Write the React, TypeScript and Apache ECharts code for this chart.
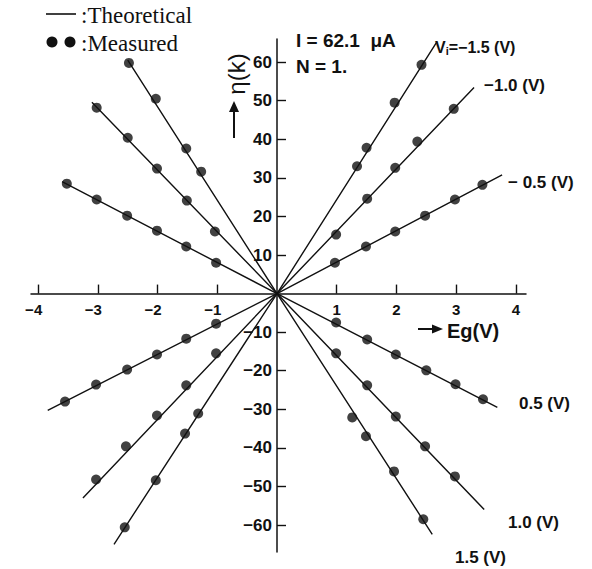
import React, { useEffect, useRef } from "react";
import * as echarts from "echarts";

// Tick positions on the two axes (0 is left unlabeled at the crossing)
const xTicks = [-4, -3, -2, -1, 1, 2, 3, 4];
const yTicks = [-60, -50, -40, -30, -20, -10, 10, 20, 30, 40, 50, 60];

// Theoretical straight lines through the origin: [Eg, eta] end points
const lineNames = ["Vi=-1.5", "Vi=-1.0", "Vi=-0.5", "Vi=0.5", "Vi=1.0", "Vi=1.5"];
const lineLow = [
  [-2.73, -65],
  [-3.25, -53],
  [-3.84, -30.3],
  [-3.6, 29],
  [-3.1, 49.6],
  [-2.5, 60.5],
];
const lineHigh = [
  [2.68, 65.3],
  [3.3, 53.4],
  [3.77, 30.8],
  [3.69, -29.5],
  [3.47, -56],
  [2.6, -62.4],
];

// Measured points for each line
const measuredN15 = [
  [-2.55, -60.6], [-2.03, -48.4], [-1.54, -36.3], [-1.32, -31.1],
  [1.34, 33], [1.5, 37.8], [1.97, 49.5], [2.42, 59.3],
];
const measuredN10 = [
  [-3.03, -48.2], [-2.53, -39.6], [-2.01, -31.6], [-1.52, -23.8], [-1.02, -15.5],
  [0.99, 15.3], [1.51, 24.6], [1.98, 32.6], [2.35, 39.4], [2.96, 47.9],
];
const measuredN05 = [
  [-3.55, -28], [-3.03, -23.6], [-2.51, -19.7], [-2.01, -15.8], [-1.52, -11.7], [-1.02, -7.8],
  [0.97, 8], [1.49, 12.2], [1.98, 16.1], [2.48, 20.2], [2.98, 24.4], [3.44, 28.2],
];
const measuredP05 = [
  [-3.52, 28.5], [-3.02, 24.4], [-2.51, 20.2], [-2.01, 16.3], [-1.52, 12.2], [-1.02, 8],
  [0.99, -7.5], [1.51, -11.9], [1.99, -15.8], [2.5, -19.9], [2.99, -23.5], [3.45, -27.4],
];
const measuredP10 = [
  [-3.02, 48.2], [-2.5, 40.4], [-2.01, 32.4], [-1.51, 24.1], [-1.04, 16.1],
  [0.99, -15.5], [1.51, -23.8], [1.99, -31.9], [2.48, -39.6], [2.98, -47.4],
];
const measuredP15 = [
  [-2.48, 59.8], [-2.03, 50.5], [-1.52, 37.6], [-1.27, 31.6],
  [1.26, -32.1], [1.49, -37], [1.96, -46.1], [2.45, -58.5],
];
const measured = [measuredN15, measuredN10, measuredN05, measuredP05, measuredP10, measuredP15];

const SANS = "'Liberation Sans', Arial, sans-serif";
const SERIF = "'Liberation Serif', 'Times New Roman', serif";
const INK = "#111";

// Plot area and axis ranges
const GRID = { left: 31, top: 39, width: 495, height: 513 };
const X_MIN = -4.12;
const X_MAX = 4.17;
const Y_MIN = -67;
const Y_MAX = 66;

export default function App() {
  const ref = useRef<HTMLDivElement>(null);

  useEffect(() => {
    if (!ref.current) return;
    const chart = echarts.init(ref.current, null, { renderer: "svg" });

    // shift both axes from the grid edges onto the origin
    const xAxisOffset = -(GRID.height * (-Y_MIN / (Y_MAX - Y_MIN)));
    const yAxisOffset = -(GRID.width * (-X_MIN / (X_MAX - X_MIN)));

    const lineSeries = lineNames.map((name, i) => ({
      name,
      type: "line",
      data: [lineLow[i], [0, 0], lineHigh[i]],
      symbol: "none",
      lineStyle: { color: INK, width: 1.4 },
      z: 2,
    }));
    const pointSeries = lineNames.map((name, i) => ({
      name: name + " measured",
      type: "scatter",
      data: measured[i],
      symbol: "circle",
      symbolSize: 10,
      itemStyle: { color: INK },
      z: 3,
    }));

    const annot = (x: number, y: number, text: string, size = 17) => ({
      type: "text",
      x,
      y,
      style: {
        text,
        fill: INK,
        font: `bold ${size}px ${SANS}`,
        verticalAlign: "middle",
        align: "left",
      },
    });

    chart.setOption({
      animation: false,
      backgroundColor: "#fff",
      grid: { ...GRID, containLabel: false },
      xAxis: {
        type: "value",
        min: X_MIN,
        max: X_MAX,
        position: "bottom",
        offset: xAxisOffset,
        axisLine: { onZero: false, lineStyle: { color: INK, width: 1.5 } },
        axisTick: {
          show: true,
          inside: true,
          length: 9,
          customValues: xTicks,
          lineStyle: { color: INK, width: 1.4 },
        },
        axisLabel: {
          customValues: xTicks,
          margin: 8,
          color: INK,
          fontSize: 15,
          fontWeight: "bold",
          fontFamily: SANS,
          formatter: (v: number) => (v < 0 ? `{n|−${Math.abs(v)}}` : `${v}`),
          rich: {
            n: {
              fontSize: 15,
              fontWeight: "bold",
              fontFamily: SANS,
              color: INK,
              padding: [0, 9, 0, 0],
            },
          },
        },
        splitLine: { show: false },
      },
      yAxis: {
        type: "value",
        min: Y_MIN,
        max: Y_MAX,
        position: "left",
        offset: yAxisOffset,
        axisLine: { onZero: false, lineStyle: { color: INK, width: 1.5 } },
        axisTick: {
          show: true,
          inside: true,
          length: 9,
          customValues: yTicks,
          lineStyle: { color: INK, width: 1.4 },
        },
        axisLabel: {
          customValues: yTicks,
          margin: 5,
          color: INK,
          fontSize: 17,
          fontWeight: "bold",
          fontFamily: SANS,
          formatter: (v: number) => (v < 0 ? `−${Math.abs(v)}` : `${v}`),
        },
        splitLine: { show: false },
      },
      series: [...lineSeries, ...pointSeries],
      graphic: [
        // legend
        { type: "line", shape: { x1: 46, y1: 14, x2: 76, y2: 14 }, style: { stroke: INK, lineWidth: 1.6 } },
        { type: "text", x: 81, y: 15, style: { text: ":Theoretical", fill: INK, font: `23px ${SERIF}`, verticalAlign: "middle" } },
        { type: "circle", shape: { cx: 52, cy: 42, r: 5.5 }, style: { fill: INK } },
        { type: "circle", shape: { cx: 70, cy: 42, r: 5.5 }, style: { fill: INK } },
        { type: "text", x: 81, y: 43, style: { text: ":Measured", fill: INK, font: `23px ${SERIF}`, verticalAlign: "middle" } },

        // conditions
        annot(296, 40, "I = 62.1  μA", 19),
        annot(296, 66, "N = 1.", 19),

        // line labels
        {
          type: "text",
          x: 435,
          y: 47,
          style: {
            text: "{v|V}{s|i}{v|=−1.5 (V)}",
            verticalAlign: "middle",
            rich: {
              v: { font: `bold 16px ${SANS}`, fill: INK },
              s: { font: `bold 11px ${SANS}`, fill: INK, padding: [8, 0, 0, 0] },
            },
          },
        },
        annot(484, 85, "−1.0 (V)"),
        annot(508, 182, "− 0.5 (V)"),
        annot(519, 403, "0.5 (V)"),
        annot(508, 522, "1.0 (V)"),
        annot(455, 557, "1.5 (V)"),

        // y-axis title: upward arrow and rotated eta(k)
        { type: "line", shape: { x1: 234, y1: 138, x2: 234, y2: 110 }, style: { stroke: INK, lineWidth: 2 } },
        { type: "polygon", shape: { points: [[229, 112], [239, 112], [234, 101]] }, style: { fill: INK } },
        {
          type: "text",
          x: 236,
          y: 74,
          rotation: Math.PI / 2,
          style: { text: "η(k)", fill: INK, font: `24px ${SANS}`, align: "center", verticalAlign: "middle" },
        },

        // x-axis title: arrow and Eg(V)
        { type: "line", shape: { x1: 418, y1: 329, x2: 434, y2: 329 }, style: { stroke: INK, lineWidth: 2 } },
        { type: "polygon", shape: { points: [[432, 324.5], [432, 333.5], [443, 329]] }, style: { fill: INK } },
        annot(447, 331, "Eg(V)", 20),
      ],
    });

    return () => chart.dispose();
  }, []);

  return (
    <div
      ref={ref}
      style={{ position: "absolute", left: 0, top: 0, width: 592, height: 569, background: "#fff" }}
    />
  );
}
